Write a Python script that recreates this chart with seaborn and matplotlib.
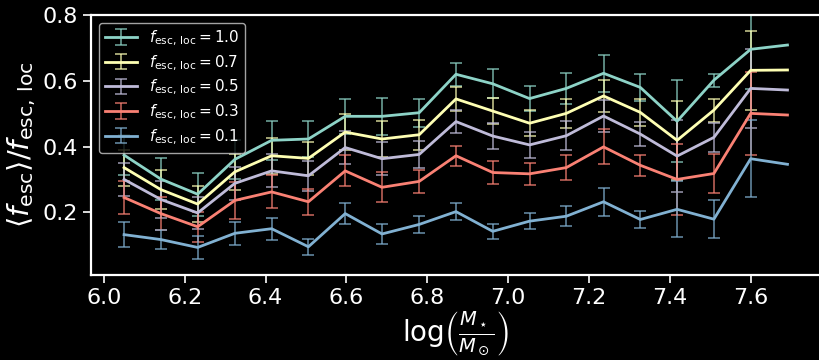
import numpy as np
import matplotlib
matplotlib.use("Agg")
import matplotlib.pyplot as plt
import seaborn as sns
from matplotlib.colors import to_rgba

# stellar-mass bin centres, log(M*/Msun)
log_mass = [6.050, 6.141, 6.232, 6.324, 6.415, 6.506, 6.597, 6.688, 6.780,
            6.871, 6.962, 7.053, 7.144, 7.236, 7.327, 7.418, 7.509, 7.600, 7.691]

# local escape fractions of each run
fesc_loc = ["1.0", "0.7", "0.5", "0.3", "0.1"]

# mean escape fraction normalised by local value, per run
ratio_10 = [0.374, 0.301, 0.255, 0.361, 0.419, 0.423, 0.492, 0.492, 0.503, 0.620,
            0.591, 0.546, 0.577, 0.623, 0.580, 0.477, 0.602, 0.696, 0.709]
ratio_07 = [0.336, 0.269, 0.225, 0.323, 0.372, 0.364, 0.444, 0.423, 0.436, 0.545,
            0.508, 0.471, 0.501, 0.554, 0.504, 0.419, 0.511, 0.632, 0.633]
ratio_05 = [0.300, 0.239, 0.198, 0.288, 0.326, 0.311, 0.397, 0.363, 0.376, 0.476,
            0.432, 0.405, 0.433, 0.493, 0.438, 0.371, 0.428, 0.577, 0.572]
ratio_03 = [0.245, 0.196, 0.156, 0.236, 0.262, 0.232, 0.326, 0.276, 0.294, 0.372,
            0.321, 0.317, 0.336, 0.399, 0.343, 0.300, 0.318, 0.501, 0.496]
ratio_01 = [0.132, 0.117, 0.093, 0.136, 0.150, 0.095, 0.196, 0.134, 0.163, 0.202,
            0.142, 0.173, 0.188, 0.232, 0.178, 0.209, 0.179, 0.363, 0.346]

# 1-sigma uncertainties (last bin has too few galaxies for an estimate)
nan = np.nan
err_10 = [0.060, 0.065, 0.065, 0.060, 0.060, 0.055, 0.054, 0.057, 0.043, 0.035,
          0.044, 0.039, 0.046, 0.057, 0.040, 0.125, 0.020, 0.120, nan]
err_07 = [0.055, 0.060, 0.055, 0.055, 0.055, 0.050, 0.055, 0.055, 0.045, 0.037,
          0.040, 0.040, 0.045, 0.050, 0.040, 0.120, 0.035, 0.120, nan]
err_05 = [0.050, 0.055, 0.050, 0.050, 0.050, 0.045, 0.050, 0.050, 0.042, 0.035,
          0.040, 0.040, 0.044, 0.050, 0.037, 0.110, 0.045, 0.120, nan]
err_03 = [0.050, 0.050, 0.045, 0.055, 0.050, 0.040, 0.047, 0.046, 0.035, 0.030,
          0.034, 0.034, 0.038, 0.053, 0.032, 0.107, 0.060, 0.126, nan]
err_01 = [0.038, 0.030, 0.036, 0.035, 0.034, 0.024, 0.033, 0.030, 0.027, 0.025,
          0.022, 0.025, 0.030, 0.043, 0.026, 0.085, 0.058, 0.117, nan]

ratios = [ratio_10, ratio_07, ratio_05, ratio_03, ratio_01]
errors = [err_10, err_07, err_05, err_03, err_01]

plt.style.use("dark_background")
sns.set_context("notebook")
palette = ["#8dd3c7", "#feffb3", "#bfbbd9", "#fa8174", "#81b1d2"]
sns.set_palette(palette)

plt.rcParams.update({
    "axes.linewidth": 1.6,
    "xtick.major.width": 1.2,
    "ytick.major.width": 1.2,
    "xtick.major.size": 6,
    "ytick.major.size": 6,
    "xtick.labelsize": 16,
    "ytick.labelsize": 16,
    "mathtext.fontset": "dejavusans",
})

fig = plt.figure(figsize=(8.19, 3.60), dpi=100)
ax = fig.add_axes([0.111, 0.236, 0.891, 0.722])

for lab, y, e, c in zip(fesc_loc, ratios, errors, palette):
    ax.errorbar(log_mass, y, yerr=e, color=c, ecolor=to_rgba(c, 0.75),
                lw=2, elinewidth=1.2, capsize=4, capthick=1.2,
                label=r"$f_{\rm esc,\,loc} = %s$" % lab)

ax.set_ylim(0.009, 0.8)
ax.set_yticks([0.2, 0.4, 0.6, 0.8])
ax.set_xticks(np.arange(6.0, 7.61, 0.2))
ax.set_xlabel(r"$\mathrm{log}\left(\frac{M_\star}{M_\odot}\right)$", fontsize=20, labelpad=1)
ax.set_ylabel(r"$\langle f_{\rm esc}\rangle/f_{\rm esc,\,loc}$", fontsize=21, labelpad=3)

ax.legend(loc="upper left", fontsize=11, framealpha=0.8, borderaxespad=0.5,
          handlelength=2.1, labelspacing=0.35)

fig.savefig("out.png", dpi=100)
